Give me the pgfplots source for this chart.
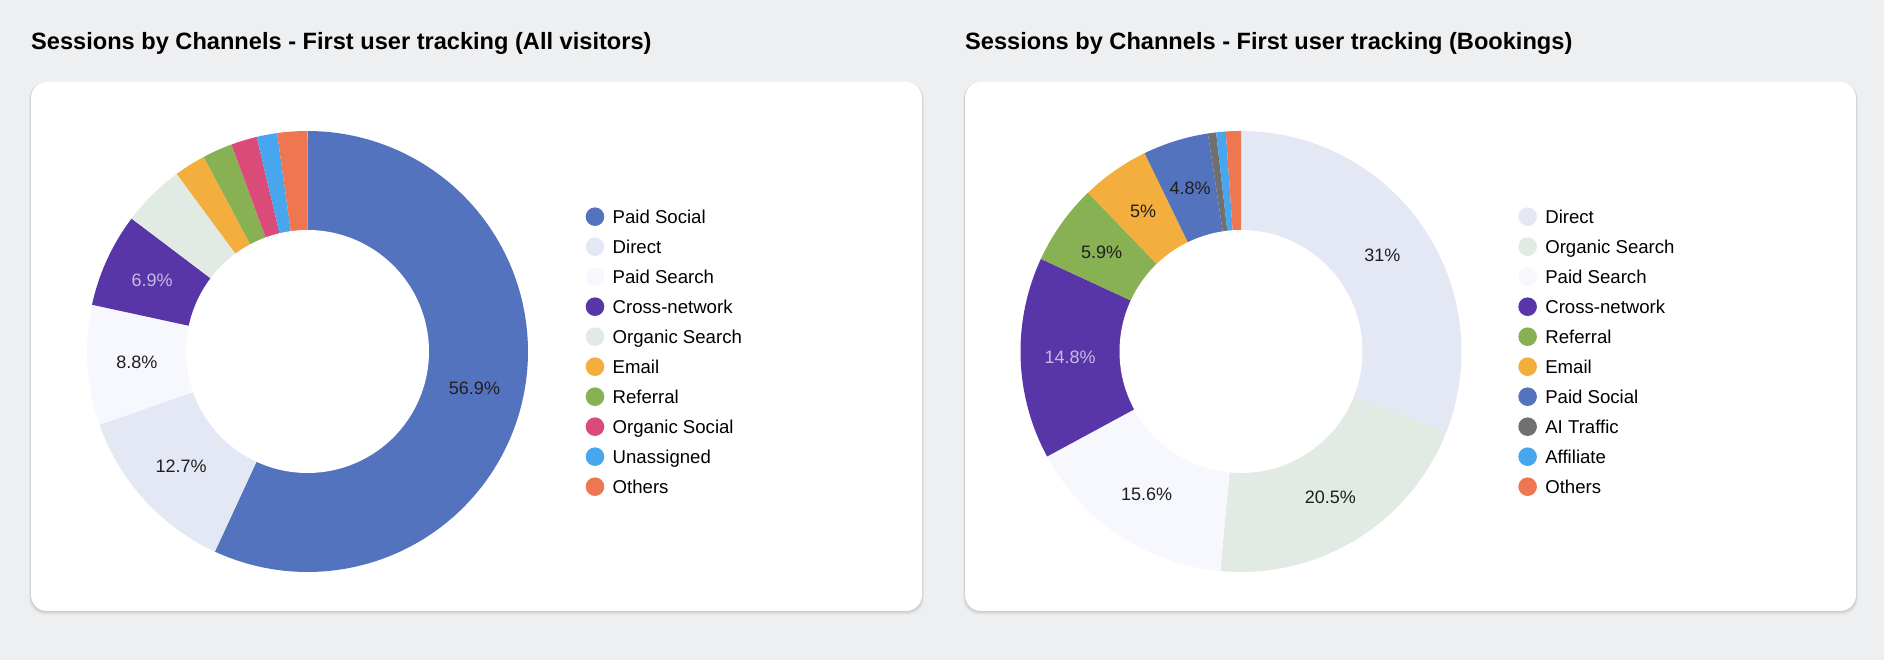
\documentclass[border=0pt]{standalone}
\usepackage{fontspec}
\setmainfont{Liberation Sans}
\usepackage{pgfplots}
\pgfplotsset{compat=1.18}

\definecolor{pagebg}{HTML}{EEEFF1}
\definecolor{cPaidSocial}{HTML}{5473BE}
\definecolor{cDirect}{HTML}{E4E8F5}
\definecolor{cPaidSearch}{HTML}{F6F8FE}
\definecolor{cCross}{HTML}{5936A8}
\definecolor{cOrgSearch}{HTML}{E2EAE4}
\definecolor{cEmail}{HTML}{F3AE3D}
\definecolor{cReferral}{HTML}{87B153}
\definecolor{cOrgSocial}{HTML}{DB4B7A}
\definecolor{cUnassigned}{HTML}{48A6EE}
\definecolor{cOthers}{HTML}{EE7751}
\definecolor{cAI}{HTML}{707070}
\definecolor{labeldark}{HTML}{1F1F1F}
\definecolor{labellight}{HTML}{C4BCE2}

\newcommand\titlefont{\fontsize{23.6}{28}\selectfont\bfseries}
\newcommand\legendfont{\fontsize{18.6}{22}\selectfont}
\newcommand\labelfont{\fontsize{18}{22}\selectfont}

\def\Rout{220.5}
\def\Rin{121.5}
\def\Rmid{171}

% one slice: value (percent), fill colour, label colour, legend text
\newcommand\slice[4]{%
  \pgfmathsetmacro\sa{\cum*3.6}%
  \pgfmathsetmacro\sb{(\cum+#1)*3.6}%
  \pgfmathsetmacro\sm{(\sa+\sb)/2}%
  \pgfmathsetmacro\lx{\Rmid*sin(\sm)}%
  \pgfmathsetmacro\ly{\Rmid*cos(\sm)}%
  \edef\doslice{%
    \noexpand\addplot[fill=#2, draw=none, domain=\sa:\sb, samples=120]
      ({\Rout*sin(x)}, {\Rout*cos(x)}) -- (axis cs:0,0) -- cycle;%
  }\doslice
  \addlegendentry{#4}%
  \ifdim #1pt>4.7pt
    \edef\dolabel{\noexpand\node[text=#3, font=\noexpand\labelfont]
      at (axis cs:\lx,\ly) {#1\noexpand\%};}%
    \dolabel
  \fi
  \pgfmathparse{\cum+#1}\xdef\cum{\pgfmathresult}%
}
\newcommand\hole{%
  \addplot[fill=white, draw=none, domain=0:360, samples=200, forget plot]
    ({\Rin*sin(x)}, {\Rin*cos(x)}) -- cycle;
}

\pgfplotsset{
  donut/.style={
    x=1pt, y=1pt, xmin=-221, xmax=221, ymin=-221, ymax=221,
    hide axis, anchor=center, clip=false,
    legend cell align=left,
    legend image code/.code={\fill[##1] (9.3pt,0.7pt) circle (9.3pt);},
    legend style={anchor=north west, draw=none, fill=none,
      inner sep=0pt, outer sep=0pt, row sep=8pt, font=\legendfont,
      nodes={inner sep=0pt, outer sep=0pt, text height=17pt, text depth=5pt},
      /tikz/every odd column/.append style={column sep=8.4pt}},
  },
}

\begin{document}
\begin{tikzpicture}[x=1pt, y=1pt]
  \fill[pagebg] (0,0) rectangle (1884,660);
  % cards with a soft shadow
  \foreach \cx in {31, 965} {
    \foreach \s/\o in {4/0.025, 3/0.03, 2/0.04, 1/0.05}
      \fill[black, opacity=\o, rounded corners=16]
        (\cx-\s*0.5, 49-\s) rectangle (\cx+891+\s*0.5, 578-\s*0.3);
    \fill[white, rounded corners=16] (\cx,49) rectangle (\cx+891,578);
  }
  \node[anchor=base west, inner sep=0pt, font=\titlefont] at (31,610)
    {Sessions by Channels - First user tracking (All visitors)};
  \node[anchor=base west, inner sep=0pt, font=\titlefont] at (965,610)
    {Sessions by Channels - First user tracking (Bookings)};

  % All visitors
  \begin{axis}[donut, at={(307.5,308.5)},
      legend style={at={(1.1294,0.8283)}}]
    \def\cum{0}
    \slice{56.9}{cPaidSocial}{labeldark}{Paid Social}
    \slice{12.7}{cDirect}{labeldark}{Direct}
    \slice{8.8}{cPaidSearch}{labeldark}{Paid Search}
    \slice{6.9}{cCross}{labellight}{Cross-network}
    \slice{4.6}{cOrgSearch}{labeldark}{Organic Search}
    \slice{2.3}{cEmail}{labeldark}{Email}
    \slice{2.2}{cReferral}{labeldark}{Referral}
    \slice{1.9}{cOrgSocial}{labeldark}{Organic Social}
    \slice{1.5}{cUnassigned}{labeldark}{Unassigned}
    \slice{2.2}{cOthers}{labeldark}{Others}
    \hole
  \end{axis}

  % Bookings
  \begin{axis}[donut, at={(1241,308.5)},
      legend style={at={(1.1274,0.8283)}}]
    \def\cum{0}
    \slice{31}{cDirect}{labeldark}{Direct}
    \slice{20.5}{cOrgSearch}{labeldark}{Organic Search}
    \slice{15.6}{cPaidSearch}{labeldark}{Paid Search}
    \slice{14.8}{cCross}{labellight}{Cross-network}
    \slice{5.9}{cReferral}{labeldark}{Referral}
    \slice{5}{cEmail}{labeldark}{Email}
    \slice{4.8}{cPaidSocial}{labeldark}{Paid Social}
    \slice{0.6}{cAI}{labeldark}{AI Traffic}
    \slice{0.7}{cUnassigned}{labeldark}{Affiliate}
    \slice{1.1}{cOthers}{labeldark}{Others}
    \hole
  \end{axis}
\end{tikzpicture}
\end{document}
